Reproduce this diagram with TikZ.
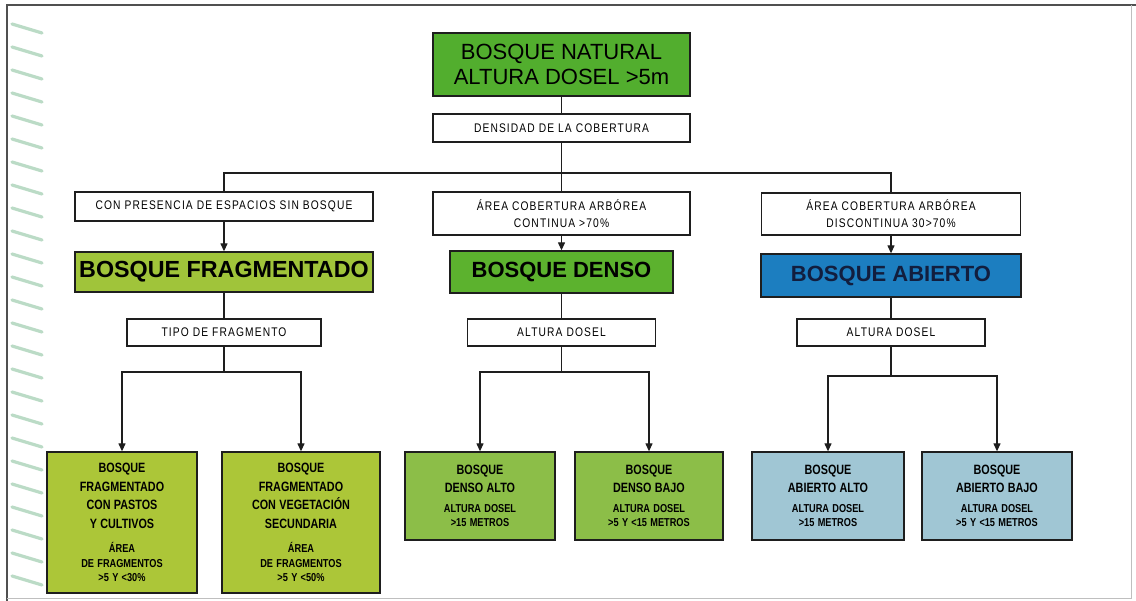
\documentclass[tikz,border=0pt]{standalone}
\usepackage{fontspec}
\setmainfont{Liberation Sans}
\newfontfamily\thinf[FakeStretch=0.82,LetterSpace=9]{Liberation Sans}
\newfontfamily\condf[FakeStretch=0.8]{Liberation Sans}
\usetikzlibrary{arrows.meta}
\definecolor{linec}{RGB}{30,30,30}
\definecolor{gtop}{RGB}{82,174,46}
\definecolor{gfrag}{RGB}{160,196,58}
\definecolor{gdens}{RGB}{92,178,46}
\definecolor{babi}{RGB}{28,126,192}
\definecolor{lfrag}{RGB}{172,198,56}
\definecolor{ldens}{RGB}{140,190,72}
\definecolor{labi}{RGB}{160,198,212}
\definecolor{streakc}{RGB}{165,208,180}
\definecolor{framec}{RGB}{80,80,80}
\newcommand\leafA[1]{{\condf\bfseries\fontsize{13.5}{18.5}\selectfont #1\par}}
\newcommand\leafB[1]{{\condf\bfseries\fontsize{11.5}{14.5}\selectfont #1\par}}
\begin{document}
\begin{tikzpicture}[x=1pt,y=-1pt,
  conn/.style={draw=linec,line width=1.2pt},
  arr/.style={-{Triangle[length=8pt,width=7pt]}},
  wbox/.style={draw=linec,line width=1.2pt,fill=white,inner sep=0pt,align=center,
    font=\thinf\fontsize{12.5}{17}\selectfont},
  bigbox/.style={draw=linec,line width=1.3pt,inner sep=0pt,align=center,
    font=\bfseries\fontsize{22}{26}\selectfont},
  leaf/.style={draw=linec,line width=1.3pt,inner sep=0pt,align=center,text width=146pt},
  streak/.style={draw=streakc,line width=3.2pt,line cap=round,opacity=0.75}
]
\useasboundingbox (0,0) rectangle (1136,601);
\fill[white] (0,0) rectangle (1136,601);
% scan decoration on the left edge
\foreach \yy in {24,47,...,590} \draw[streak] (12,\yy) -- (42,\yy+9);
% frame
\draw[framec,line width=2pt] (7,601) -- (7,5) -- (1136,5);
\draw[black!25,line width=1pt] (1131,5) -- (1131,598) -- (7,598);

% level 0
\node[bigbox,fill=gtop,font=\fontsize{22}{25}\selectfont,minimum width=257,minimum height=63]
  (top) at (561.5,64.5) {BOSQUE NATURAL\\ALTURA DOSEL >5m};
\node[wbox,minimum width=257,minimum height=28] (dens) at (561.5,128) {DENSIDAD DE LA COBERTURA};

% level 1
\node[wbox,minimum width=298,minimum height=29] (c1) at (224,206.5) {CON PRESENCIA DE ESPACIOS SIN BOSQUE};
\node[wbox,minimum width=257,minimum height=43] (c2) at (561.5,213.5) {ÁREA COBERTURA ARBÓREA\\CONTINUA >70\%};
\node[wbox,minimum width=259,minimum height=42] (c3) at (891,214) {ÁREA COBERTURA ARBÓREA\\DISCONTINUA 30>70\%};

% level 2
\node[bigbox,fill=gfrag,font=\bfseries\fontsize{23.3}{26}\selectfont,minimum width=298,minimum height=40] (bf) at (224,272) {BOSQUE FRAGMENTADO};
\node[bigbox,fill=gdens,minimum width=223,minimum height=42] (bd) at (561.5,272) {BOSQUE DENSO};
\node[bigbox,fill=babi,text={rgb,255:red,18;green,30;blue,62},minimum width=260,minimum height=43] (ba) at (891,275.5) {BOSQUE ABIERTO};

% level 3
\node[wbox,minimum width=194,minimum height=27] (t1) at (224,332.5) {TIPO DE FRAGMENTO};
\node[wbox,minimum width=188,minimum height=27] (t2) at (561.5,332.5) {ALTURA DOSEL};
\node[wbox,minimum width=188,minimum height=27] (t3) at (891,332.5) {ALTURA DOSEL};

% leaves
\node[leaf,fill=lfrag,minimum width=150,minimum height=141] (b1) at (122,522.5)
  {\leafA{BOSQUE\\FRAGMENTADO\\CON PASTOS\\Y CULTIVOS}\vspace{10pt}\leafB{ÁREA\\DE FRAGMENTOS\\>5 Y <30\%}};
\node[leaf,fill=lfrag,minimum width=158,minimum height=141] (b2) at (301,522.5)
  {\leafA{BOSQUE\\FRAGMENTADO\\CON VEGETACIÓN\\SECUNDARIA}\vspace{10pt}\leafB{ÁREA\\DE FRAGMENTOS\\>5 Y <50\%}};
\node[leaf,fill=ldens,minimum width=150,minimum height=88] (b3) at (480,496)
  {\leafA{BOSQUE\\DENSO ALTO}\vspace{5pt}\leafB{ALTURA DOSEL\\>15 METROS}};
\node[leaf,fill=ldens,minimum width=148,minimum height=88] (b4) at (649,496)
  {\leafA{BOSQUE\\DENSO BAJO}\vspace{5pt}\leafB{ALTURA DOSEL\\>5 Y <15 METROS}};
\node[leaf,fill=labi,minimum width=152,minimum height=88] (b5) at (828,496)
  {\leafA{BOSQUE\\ABIERTO ALTO}\vspace{5pt}\leafB{ALTURA DOSEL\\>15 METROS}};
\node[leaf,fill=labi,minimum width=150,minimum height=88] (b6) at (997,496)
  {\leafA{BOSQUE\\ABIERTO BAJO}\vspace{5pt}\leafB{ALTURA DOSEL\\>5 Y <15 METROS}};

% connectors
\coordinate (j0) at (561.5,173);
\draw[conn] (top) -- (dens);
\draw[conn] (dens) -- (j0);
\draw[conn] (c1.north) |- (j0) -| (c3.north);
\draw[conn] (j0) -- (c2.north);
\draw[conn,arr] (c1) -- (bf);
\draw[conn,arr] (c2) -- (bd);
\draw[conn,arr] (c3) -- (ba);
\draw[conn] (bf) -- (t1);
\draw[conn] (bd) -- (t2);
\draw[conn] (ba) -- (t3);
\coordinate (j1) at (224,372);
\coordinate (j2) at (561.5,372);
\coordinate (j3) at (891,376);
\draw[conn] (t1) -- (j1);
\draw[conn] (t2) -- (j2);
\draw[conn] (t3) -- (j3);
\draw[conn,arr] (j1) -| (b1.north);
\draw[conn,arr] (j1) -| (b2.north);
\draw[conn,arr] (j2) -| (b3.north);
\draw[conn,arr] (j2) -| (b4.north);
\draw[conn,arr] (j3) -| (b5.north);
\draw[conn,arr] (j3) -| (b6.north);
\end{tikzpicture}
\end{document}
